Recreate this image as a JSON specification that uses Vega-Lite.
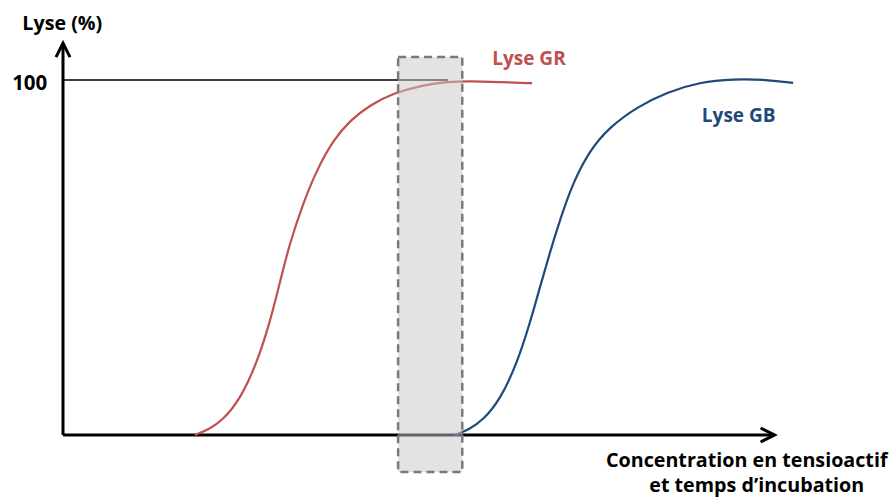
{
  "$schema": "https://vega.github.io/schema/vega-lite/v6.json",
  "width": 892,
  "height": 504,
  "autosize": {"type": "fit", "contains": "padding"},
  "padding": 0,
  "background": "white",
  "config": {"view": {"stroke": null}, "text": {"font": "Open Sans", "fontWeight": "bold"}},
  "datasets": {
    "curves": [
      {"series": "GR", "conc": 18.5, "lyse": 0},
      {"series": "GR", "conc": 20.5, "lyse": 1.6},
      {"series": "GR", "conc": 22.4, "lyse": 4.2},
      {"series": "GR", "conc": 24.8, "lyse": 9.9},
      {"series": "GR", "conc": 27.2, "lyse": 20.3},
      {"series": "GR", "conc": 29.0, "lyse": 31.6},
      {"series": "GR", "conc": 30.4, "lyse": 42.8},
      {"series": "GR", "conc": 31.8, "lyse": 54.1},
      {"series": "GR", "conc": 33.7, "lyse": 65.4},
      {"series": "GR", "conc": 35.6, "lyse": 74.7},
      {"series": "GR", "conc": 37.9, "lyse": 83.1},
      {"series": "GR", "conc": 40.3, "lyse": 88.7},
      {"series": "GR", "conc": 43.1, "lyse": 93.0},
      {"series": "GR", "conc": 46.3, "lyse": 96.3},
      {"series": "GR", "conc": 50.5, "lyse": 98.6},
      {"series": "GR", "conc": 53.9, "lyse": 99.5},
      {"series": "GR", "conc": 57.1, "lyse": 99.7},
      {"series": "GR", "conc": 61.3, "lyse": 99.4},
      {"series": "GR", "conc": 65.8, "lyse": 99.1},
      {"series": "GB", "conc": 55.0, "lyse": 0},
      {"series": "GB", "conc": 57.0, "lyse": 1.6},
      {"series": "GB", "conc": 58.9, "lyse": 4.2},
      {"series": "GB", "conc": 61.3, "lyse": 9.9},
      {"series": "GB", "conc": 63.7, "lyse": 20.3},
      {"series": "GB", "conc": 65.5, "lyse": 31.6},
      {"series": "GB", "conc": 66.9, "lyse": 41.7},
      {"series": "GB", "conc": 68.3, "lyse": 51.5},
      {"series": "GB", "conc": 69.7, "lyse": 60.6},
      {"series": "GB", "conc": 71.5, "lyse": 71.0},
      {"series": "GB", "conc": 73.9, "lyse": 80.3},
      {"series": "GB", "conc": 76.7, "lyse": 86.8},
      {"series": "GB", "conc": 80.5, "lyse": 92.4},
      {"series": "GB", "conc": 84.7, "lyse": 96.6},
      {"series": "GB", "conc": 89.3, "lyse": 99.4},
      {"series": "GB", "conc": 94.0, "lyse": 100.3},
      {"series": "GB", "conc": 98.7, "lyse": 100.1},
      {"series": "GB", "conc": 102.4, "lyse": 99.2}
    ],
    "axes": [
      {"kind": "y", "conc": 0, "lyse": 0, "conc2": 0, "lyse2": 110.4},
      {"kind": "x", "conc": 0, "lyse": 0, "conc2": 99.8, "lyse2": 0}
    ],
    "ref100": [{"conc": 0, "lyse": 100, "conc2": 54.0, "lyse2": 100}],
    "tipY": [{"conc": 0, "lyse": 110.4}],
    "tipX": [{"conc": 99.8, "lyse": 0}],
    "zone": [{"conc": 47.0, "conc2": 56.0, "lyse": -10.4, "lyse2": 106.5}],
    "titles": [
      {"label": "Lyse (%)", "conc": -0.1, "lyse": 114.1},
      {"label": "Concentration en tensioactif", "conc": 95.9, "lyse": -9.0},
      {"label": "et temps d’incubation", "conc": 97.3, "lyse": -16.1}
    ],
    "ticklab": [{"label": "100", "conc": -2.2, "lyse": 97.2}],
    "serieslab": [
      {"series": "GR", "label": "Lyse GR", "conc": 60.2, "lyse": 104.2},
      {"series": "GB", "label": "Lyse GB", "conc": 89.6, "lyse": 88.2}
    ]
  },
  "layer": [
    {
      "data": {"name": "ref100"},
      "mark": {"type": "rule", "color": "black", "strokeWidth": 1.5},
      "encoding": {
        "x": {"field": "conc", "type": "quantitative", "scale": {"domain": [-8.836, 116.27], "nice": false, "zero": false}, "axis": null},
        "y": {"field": "lyse", "type": "quantitative", "scale": {"domain": [-19.44, 122.54], "nice": false, "zero": false}, "axis": null},
        "x2": {"field": "conc2"},
        "y2": {"field": "lyse2"}
      }
    },
    {
      "data": {"name": "axes"},
      "mark": {"type": "rule", "color": "black", "strokeWidth": 3},
      "encoding": {
        "x": {"field": "conc", "type": "quantitative", "scale": {"domain": [-8.836, 116.27], "nice": false, "zero": false}, "axis": null},
        "y": {"field": "lyse", "type": "quantitative", "scale": {"domain": [-19.44, 122.54], "nice": false, "zero": false}, "axis": null},
        "x2": {"field": "conc2"},
        "y2": {"field": "lyse2"}
      }
    },
    {
      "data": {"name": "tipY"},
      "mark": {"type": "point", "shape": "M -1 2 L 0 0 L 1 2", "size": 196, "filled": false, "stroke": "black", "strokeWidth": 3, "opacity": 1, "strokeJoin": "miter"},
      "encoding": {
        "x": {"field": "conc", "type": "quantitative", "scale": {"domain": [-8.836, 116.27], "nice": false, "zero": false}, "axis": null},
        "y": {"field": "lyse", "type": "quantitative", "scale": {"domain": [-19.44, 122.54], "nice": false, "zero": false}, "axis": null}
      }
    },
    {
      "data": {"name": "tipX"},
      "mark": {"type": "point", "shape": "M -2 -1 L 0 0 L -2 1", "size": 196, "filled": false, "stroke": "black", "strokeWidth": 3, "opacity": 1, "strokeJoin": "miter"},
      "encoding": {
        "x": {"field": "conc", "type": "quantitative", "scale": {"domain": [-8.836, 116.27], "nice": false, "zero": false}, "axis": null},
        "y": {"field": "lyse", "type": "quantitative", "scale": {"domain": [-19.44, 122.54], "nice": false, "zero": false}, "axis": null}
      }
    },
    {
      "data": {"name": "curves"},
      "mark": {"type": "line", "interpolate": "basis", "strokeWidth": 2.2},
      "encoding": {
        "x": {"field": "conc", "type": "quantitative", "scale": {"domain": [-8.836, 116.27], "nice": false, "zero": false}, "axis": null},
        "y": {"field": "lyse", "type": "quantitative", "scale": {"domain": [-19.44, 122.54], "nice": false, "zero": false}, "axis": null},
        "color": {"field": "series", "type": "nominal", "scale": {"domain": ["GR", "GB"], "range": ["#c0504d", "#1f497d"]}, "legend": null},
        "detail": {"field": "series"}
      }
    },
    {
      "data": {"name": "zone"},
      "mark": {"type": "rect", "fill": "#c8c8c8", "fillOpacity": 0.5, "stroke": "#7a7a7a", "strokeWidth": 2.5, "strokeDash": [8, 5]},
      "encoding": {
        "x": {"field": "conc", "type": "quantitative", "scale": {"domain": [-8.836, 116.27], "nice": false, "zero": false}, "axis": null},
        "y": {"field": "lyse", "type": "quantitative", "scale": {"domain": [-19.44, 122.54], "nice": false, "zero": false}, "axis": null},
        "x2": {"field": "conc2"},
        "y2": {"field": "lyse2"}
      }
    },
    {
      "data": {"name": "titles"},
      "mark": {"type": "text", "align": "center", "baseline": "alphabetic", "fontSize": 19.7, "color": "black"},
      "encoding": {
        "x": {"field": "conc", "type": "quantitative", "scale": {"domain": [-8.836, 116.27], "nice": false, "zero": false}, "axis": null},
        "y": {"field": "lyse", "type": "quantitative", "scale": {"domain": [-19.44, 122.54], "nice": false, "zero": false}, "axis": null},
        "text": {"field": "label"}
      }
    },
    {
      "data": {"name": "ticklab"},
      "mark": {"type": "text", "align": "right", "baseline": "alphabetic", "fontSize": 20.5, "color": "black"},
      "encoding": {
        "x": {"field": "conc", "type": "quantitative", "scale": {"domain": [-8.836, 116.27], "nice": false, "zero": false}, "axis": null},
        "y": {"field": "lyse", "type": "quantitative", "scale": {"domain": [-19.44, 122.54], "nice": false, "zero": false}, "axis": null},
        "text": {"field": "label"}
      }
    },
    {
      "data": {"name": "serieslab"},
      "mark": {"type": "text", "align": "left", "baseline": "alphabetic", "fontSize": 19},
      "encoding": {
        "x": {"field": "conc", "type": "quantitative", "scale": {"domain": [-8.836, 116.27], "nice": false, "zero": false}, "axis": null},
        "y": {"field": "lyse", "type": "quantitative", "scale": {"domain": [-19.44, 122.54], "nice": false, "zero": false}, "axis": null},
        "text": {"field": "label"},
        "color": {"field": "series", "type": "nominal", "scale": {"domain": ["GR", "GB"], "range": ["#c0504d", "#1f497d"]}, "legend": null}
      }
    }
  ]
}
